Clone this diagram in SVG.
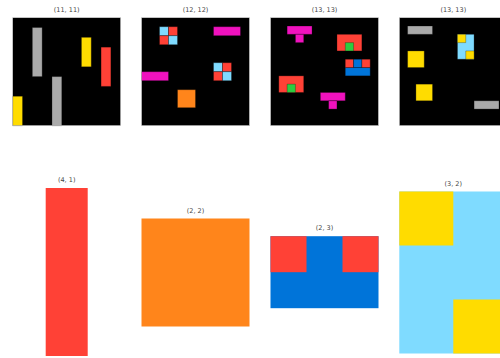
<svg xmlns="http://www.w3.org/2000/svg" width="500" height="358" viewBox="0 0 500 358">
<style>
.t{font-family:"DejaVu Sans",sans-serif;font-size:6.5px;fill:#444;text-anchor:middle}
.c rect{vector-effect:non-scaling-stroke;stroke:#000;stroke-opacity:0.45;stroke-width:0.6}
.bg{fill:#000}
.frame{fill:none;stroke:#d0d0d0;stroke-width:0.6}
.k{fill:#000000}.b{fill:#0074D9}.r{fill:#FF4136}.g{fill:#2ECC40}.y{fill:#FFDC00}.s{fill:#AAAAAA}.m{fill:#F012BE}.o{fill:#FF851B}.l{fill:#7FDBFF}
</style>
<rect width="500" height="358" fill="#fff"/>
<g id="connectors"/>
<g id="grid-11x11">
<text class="t" x="66.7" y="12.2">(11, 11)</text>
<rect class="bg" x="12.7" y="17.7" width="108" height="108"/>
<g class="c" transform="translate(12.7,17.7) scale(9.818)">
<rect class="s" x="2" y="1" width="1" height="5"/>
<rect class="y" x="7" y="2" width="1" height="3"/>
<rect class="r" x="9" y="3" width="1" height="4"/>
<rect class="s" x="4" y="6" width="1" height="5"/>
<rect class="y" x="0" y="8" width="1" height="3"/>
</g>
<rect class="frame" x="12.7" y="17.7" width="108" height="108"/>
</g>
<g id="grid-12x12">
<text class="t" x="195.5" y="12.2">(12, 12)</text>
<rect class="bg" x="141.5" y="17.7" width="108" height="108"/>
<g class="c" transform="translate(141.5,17.7) scale(9)">
<rect class="l" x="2" y="1" width="1" height="1"/>
<rect class="r" x="3" y="1" width="1" height="1"/>
<rect class="r" x="2" y="2" width="1" height="1"/>
<rect class="l" x="3" y="2" width="1" height="1"/>
<rect class="m" x="8" y="1" width="3" height="1"/>
<rect class="l" x="8" y="5" width="1" height="1"/>
<rect class="r" x="9" y="5" width="1" height="1"/>
<rect class="r" x="8" y="6" width="1" height="1"/>
<rect class="l" x="9" y="6" width="1" height="1"/>
<rect class="m" x="0" y="6" width="3" height="1"/>
<rect class="o" x="4" y="8" width="2" height="2"/>
</g>
<rect class="frame" x="141.5" y="17.7" width="108" height="108"/>
</g>
<g id="grid-13x13-a">
<text class="t" x="324.5" y="12.2">(13, 13)</text>
<rect class="bg" x="270.5" y="17.7" width="108" height="108"/>
<g class="c" transform="translate(270.5,17.7) scale(8.3077)">
<rect class="m" x="2" y="1" width="3" height="1"/>
<rect class="m" x="3" y="2" width="1" height="1"/>
<rect class="r" x="8" y="2" width="3" height="2"/>
<rect class="g" x="9" y="3" width="1" height="1"/>
<rect class="b" x="9" y="6" width="3" height="1"/>
<rect class="r" x="9" y="5" width="1" height="1"/>
<rect class="b" x="10" y="5" width="1" height="1"/>
<rect class="r" x="11" y="5" width="1" height="1"/>
<rect class="r" x="1" y="7" width="3" height="2"/>
<rect class="g" x="2" y="8" width="1" height="1"/>
<rect class="m" x="6" y="9" width="3" height="1"/>
<rect class="m" x="7" y="10" width="1" height="1"/>
</g>
<rect class="frame" x="270.5" y="17.7" width="108" height="108"/>
</g>
<g id="grid-13x13-b">
<text class="t" x="453.3" y="12.2">(13, 13)</text>
<rect class="bg" x="399.3" y="17.7" width="108" height="108"/>
<g class="c" transform="translate(399.3,17.7) scale(8.3077)">
<rect class="s" x="1" y="1" width="3" height="1"/>
<rect class="y" x="1" y="4" width="2" height="2"/>
<rect class="l" x="7" y="2" width="2" height="3"/>
<rect class="y" x="7" y="2" width="1" height="1"/>
<rect class="y" x="8" y="4" width="1" height="1"/>
<rect class="y" x="2" y="8" width="2" height="2"/>
<rect class="s" x="9" y="10" width="3" height="1"/>
</g>
<rect class="frame" x="399.3" y="17.7" width="108" height="108"/>
</g>
<g id="grid-4x1">
<text class="t" x="66.7" y="182.3">(4, 1)</text>
<rect class="r" x="45.7" y="188" width="42" height="168"/>
</g>
<g id="grid-2x2">
<text class="t" x="195.5" y="212.6">(2, 2)</text>
<rect class="o" x="141.5" y="218.5" width="108" height="108"/>
</g>
<g id="grid-2x3">
<text class="t" x="324.5" y="230.2">(2, 3)</text>
<g transform="translate(270.5,236.2) scale(36)">
<rect class="b" x="0" y="0" width="3" height="2"/>
<rect class="r" x="0" y="0" width="1" height="1"/>
<rect class="r" x="2" y="0" width="1" height="1"/>
</g>
</g>
<g id="grid-3x2">
<text class="t" x="453.3" y="185.5">(3, 2)</text>
<g transform="translate(399.3,191.5) scale(54)">
<rect class="l" x="0" y="0" width="2" height="3"/>
<rect class="y" x="0" y="0" width="1" height="1"/>
<rect class="y" x="1" y="2" width="1" height="1"/>
</g>
</g>
</svg>
